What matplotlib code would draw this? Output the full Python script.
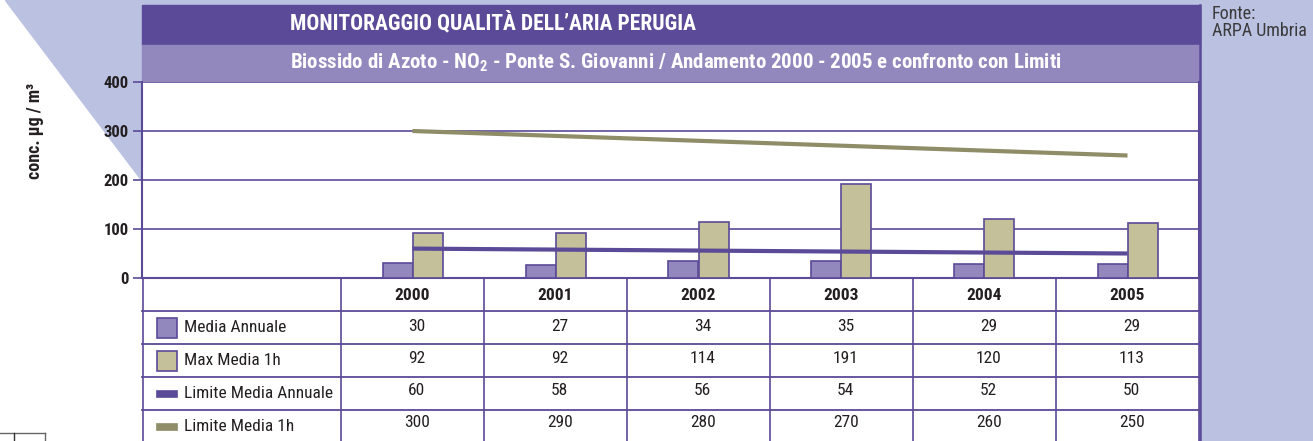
import matplotlib
matplotlib.use('Agg')
import matplotlib.pyplot as plt
from matplotlib import font_manager
from matplotlib.patches import Rectangle, Polygon
from matplotlib.lines import Line2D
import numpy as np

# data
years = ['2000', '2001', '2002', '2003', '2004', '2005']
media_annuale = [30, 27, 34, 35, 29, 29]
max_media_1h = [92, 92, 114, 191, 120, 113]
limite_media_annuale = [60, 58, 56, 54, 52, 50]
limite_media_1h = [300, 290, 280, 270, 260, 250]
series_labels = ['Media Annuale', 'Max Media 1h', 'Limite Media Annuale', 'Limite Media 1h']
y_ticks = [0, 100, 200, 300, 400]

title = "MONITORAGGIO QUALITÀ DELL’ARIA PERUGIA"
subtitle = (r"Biossido di Azoto - NO$_{\mathbf{2}}$ - Ponte S. Giovanni / "
            "Andamento 2000 - 2005 e confronto con Limiti")
y_label = "conc. µg / m³"
source = "Fonte:\nARPA Umbria"

# colours
DARK = '#5b4a97'
MID = '#9388bd'
OLIVE_BAR = '#c3c09a'
OLIVE_LINE = '#8f8c68'
PANEL = '#bac1e1'
INK = '#231f20'

# pick a narrow font if there is one
names = {f.name for f in font_manager.fontManager.ttflist}
family = 'DejaVu Sans'
for cand in ['Liberation Sans Narrow', 'Roboto Condensed', 'Open Sans Condensed']:
    if cand in names:
        family = cand
        break
plt.rcParams['font.family'] = [family, 'DejaVu Sans']
plt.rcParams['mathtext.fontset'] = 'custom'
plt.rcParams['mathtext.rm'] = family
plt.rcParams['mathtext.bf'] = family + ':bold'

W, H = 1313, 441
fig = plt.figure(figsize=(W / 100, H / 100), dpi=100)
fig.patch.set_facecolor('white')


def fx(px):
    return px / W


def fy(py):
    return 1 - py / H


# background decoration
fig.patches.append(Polygon([(fx(5), fy(0)), (fx(142), fy(0)), (fx(142), fy(181))],
                           closed=True, transform=fig.transFigure, color=PANEL, zorder=0))
fig.patches.append(Rectangle((fx(142), fy(5)), fx(1060), 5 / H,
                             transform=fig.transFigure, color=PANEL, zorder=0))
fig.patches.append(Rectangle((fx(1200), 0), fx(113), 1,
                             transform=fig.transFigure, color=PANEL, zorder=0))
fig.patches.append(Rectangle((fx(142), fy(45)), fx(1058), 40 / H,
                             transform=fig.transFigure, color=DARK, zorder=1))
fig.patches.append(Rectangle((fx(142), fy(81)), fx(1058), 36 / H,
                             transform=fig.transFigure, color=MID, zorder=1))

fig.text(fx(290), fy(23), title, color='white', fontsize=15.5, fontweight='bold',
         ha='left', va='center')
fig.text(fx(676), fy(63), subtitle, color='white', fontsize=15, fontweight='bold',
         ha='center', va='center')
fig.text(fx(1212), fy(5), source, color='#3a3a3a', fontsize=13, ha='left', va='top',
         linespacing=0.9)
fig.text(fx(35), fy(131), y_label, color=INK, fontsize=13, fontweight='bold',
         rotation=90, ha='center', va='center')

# x scale: one column per year, label column on the left
col_w = (1199 - 341) / len(years)
x_left = -0.5 - (341 - 142) / col_w
x_right = len(years) - 0.5
x = np.arange(len(years))

ax = fig.add_axes([fx(142), fy(278), fx(1057), (278 - 82) / H])
ax.set_zorder(3)
ax.set_xlim(x_left, x_right)
ax.set_ylim(0, 400)
ax.set_facecolor('white')

bar_w = 30 / col_w
ax.bar(x - bar_w / 2, media_annuale, width=bar_w, color=MID, edgecolor=DARK,
       linewidth=1.2, zorder=3)
ax.bar(x + bar_w / 2, max_media_1h, width=bar_w, color=OLIVE_BAR, edgecolor=DARK,
       linewidth=1.2, zorder=3)
ax.plot(x, limite_media_1h, color=OLIVE_LINE, linewidth=3, solid_capstyle='butt', zorder=4)
ax.plot(x, limite_media_annuale, color=DARK, linewidth=3, solid_capstyle='butt', zorder=4)

ax.set_yticks(y_ticks)
ax.set_yticklabels([str(v) for v in y_ticks], fontweight='bold', fontsize=12, color=INK)
ax.set_xticks([])
ax.yaxis.grid(True, color=DARK, linewidth=1.2, zorder=1)
ax.tick_params(axis='y', length=6.5, width=1.2, color=DARK, pad=3)
for side in ['left', 'bottom', 'right']:
    ax.spines[side].set_color(DARK)
    ax.spines[side].set_linewidth(1.5)
ax.spines['top'].set_visible(False)

# data table below the chart
tab = fig.add_axes([fx(142), 0, fx(1057), (441 - 279) / H])
tab.set_zorder(3)
tab.set_xlim(x_left, x_right)
tab.set_ylim(162, 0)
tab.axis('off')

row_edges = [0, 32, 65, 98, 131, 164]
for r in row_edges[1:-1]:
    tab.plot([x_left, x_right], [r, r], color=DARK, linewidth=1.3, clip_on=False)
col_edges = [x_left + 0.004] + list(np.arange(len(years) + 1) - 0.5)
for c in col_edges:
    tab.plot([c, c], [0, 162], color=DARK, linewidth=1.2, clip_on=False)

for i, yr in enumerate(years):
    tab.text(i, (row_edges[0] + row_edges[1]) / 2, yr, ha='center', va='center',
             fontsize=12.5, fontweight='bold', color=INK)

table_rows = [media_annuale, max_media_1h, limite_media_annuale, limite_media_1h]
for k, vals in enumerate(table_rows):
    yc = (row_edges[k + 1] + row_edges[k + 2]) / 2
    for i, v in enumerate(vals):
        tab.text(i + 0.03, yc - 1 - k, str(v), ha='center', va='center', fontsize=12.5,
                 color=INK)
    tab.text(x_left + 42 / col_w, yc, series_labels[k], ha='left', va='center',
             fontsize=12.5, color=INK)

# legend swatches
sw_x = x_left + 15 / col_w
sw_w = 20 / col_w
for k, (fc, ec, h) in enumerate([(MID, DARK, 20), (OLIVE_BAR, DARK, 20),
                                  (DARK, DARK, 6), (OLIVE_LINE, OLIVE_LINE, 6)]):
    yc = (row_edges[k + 1] + row_edges[k + 2]) / 2
    tab.add_patch(Rectangle((sw_x, yc - h / 2), sw_w, h, facecolor=fc, edgecolor=ec,
                            linewidth=1.2, clip_on=False))

# right border of the chart frame
fig.add_artist(Line2D([fx(1199.5), fx(1199.5)], [0, fy(5)], color=DARK, linewidth=1.8))

# small mark at the bottom left corner
fig.add_artist(Line2D([0, fx(45)], [fy(433), fy(433)], color='#666666', linewidth=1))
fig.add_artist(Line2D([fx(14), fx(14)], [0, fy(433)], color='#333333', linewidth=1))
fig.add_artist(Line2D([fx(45), fx(45)], [0, fy(433)], color='#666666', linewidth=1))

fig.savefig('out.png', dpi=100)
